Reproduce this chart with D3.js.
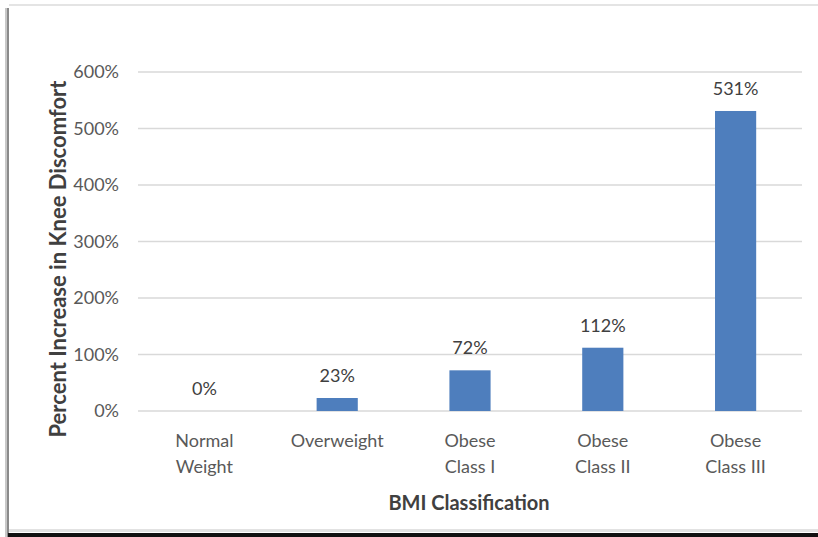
<!DOCTYPE html>
<html>
<head>
<meta charset="utf-8">
<script src="https://cdn.jsdelivr.net/npm/d3@7"></script>
<style>
  html, body { margin: 0; padding: 0; background: #ffffff; }
  svg { display: block; }
  text { font-family: Lato, "Open Sans", sans-serif; }
</style>
</head>
<body>
<svg id="chart" width="818" height="537"></svg>
<script>
// BMI class vs. percent increase in knee discomfort
const categories = [["Normal", "Weight"], ["Overweight"], ["Obese", "Class I"], ["Obese", "Class II"], ["Obese", "Class III"]];
const values = [0, 23, 72, 112, 531];
const yTicks = [0, 100, 200, 300, 400, 500, 600];
const yTitle = "Percent Increase in Knee Discomfort";
const xTitle = "BMI Classification";

const svg = d3.select("#chart");
const W = 818, H = 537;

// panel frame with drop shadow edges
svg.append("rect").attr("x", 0).attr("y", 0).attr("width", W).attr("height", H).attr("fill", "#ffffff");
svg.append("rect").attr("x", 9).attr("y", 4).attr("width", W - 9).attr("height", 2).attr("fill", "#e4e4e4");
svg.append("rect").attr("x", 5).attr("y", 8).attr("width", 2).attr("height", H - 8).attr("fill", "#c8c8c8");
svg.append("rect").attr("x", 7).attr("y", 8).attr("width", 2).attr("height", H - 8).attr("fill", "#8a8a8a");
svg.append("rect").attr("x", 9).attr("y", 529).attr("width", W - 9).attr("height", 3).attr("fill", "#e2e2e2");
svg.append("rect").attr("x", 8).attr("y", 533).attr("width", W - 8).attr("height", 4).attr("fill", "#111111");

const plot = { left: 138, right: 802, top: 72, bottom: 411 };

const x = d3.scaleBand()
  .domain(d3.range(categories.length))
  .range([plot.left, plot.right])
  .paddingInner(0.69)
  .paddingOuter(0.345);

const y = d3.scaleLinear().domain([0, 600]).range([plot.bottom, plot.top]);

// gridlines
svg.append("g")
  .selectAll("line")
  .data(yTicks)
  .join("line")
  .attr("x1", plot.left).attr("x2", plot.right)
  .attr("y1", d => y(d)).attr("y2", d => y(d))
  .attr("stroke", "#d9d9d9").attr("stroke-width", 1.3);

// y tick labels
const yAxis = d3.axisLeft(y).tickValues(yTicks).tickSize(0).tickPadding(0).tickFormat(d => d + "%");
const gy = svg.append("g").attr("transform", `translate(119,0)`).call(yAxis);
gy.select(".domain").remove();
gy.selectAll("text").attr("font-size", 18).attr("fill", "#595959")
  .attr("font-family", "Lato, 'Open Sans', sans-serif");

// bars
svg.append("g")
  .selectAll("rect")
  .data(values)
  .join("rect")
  .attr("x", (d, i) => x(i))
  .attr("width", x.bandwidth())
  .attr("y", d => y(d))
  .attr("height", d => y(0) - y(d))
  .attr("fill", "#4e7ebd");

// value labels
svg.append("g")
  .selectAll("text")
  .data(values)
  .join("text")
  .attr("x", (d, i) => x(i) + x.bandwidth() / 2)
  .attr("y", d => y(d) - 16)
  .attr("text-anchor", "middle")
  .attr("font-size", 18)
  .attr("fill", "#404040")
  .text(d => d + "%");

// category labels
const cat = svg.append("g")
  .selectAll("text")
  .data(categories)
  .join("text")
  .attr("x", (d, i) => x(i) + x.bandwidth() / 2)
  .attr("y", 447)
  .attr("text-anchor", "middle")
  .attr("font-size", 18)
  .attr("fill", "#595959");
cat.selectAll("tspan")
  .data(d => d)
  .join("tspan")
  .attr("x", function() { return d3.select(this.parentNode).attr("x"); })
  .attr("dy", (d, i) => i === 0 ? 0 : 26)
  .text(d => d);

// axis titles
svg.append("text")
  .attr("x", 469).attr("y", 510)
  .attr("text-anchor", "middle")
  .attr("font-size", 20).attr("font-weight", "bold")
  .attr("fill", "#404040")
  .text(xTitle);

svg.append("text")
  .attr("transform", "translate(66,259) rotate(-90)")
  .attr("text-anchor", "middle")
  .attr("font-size", 22).attr("font-weight", "bold")
  .attr("fill", "#404040")
  .text(yTitle);
</script>
</body>
</html>
